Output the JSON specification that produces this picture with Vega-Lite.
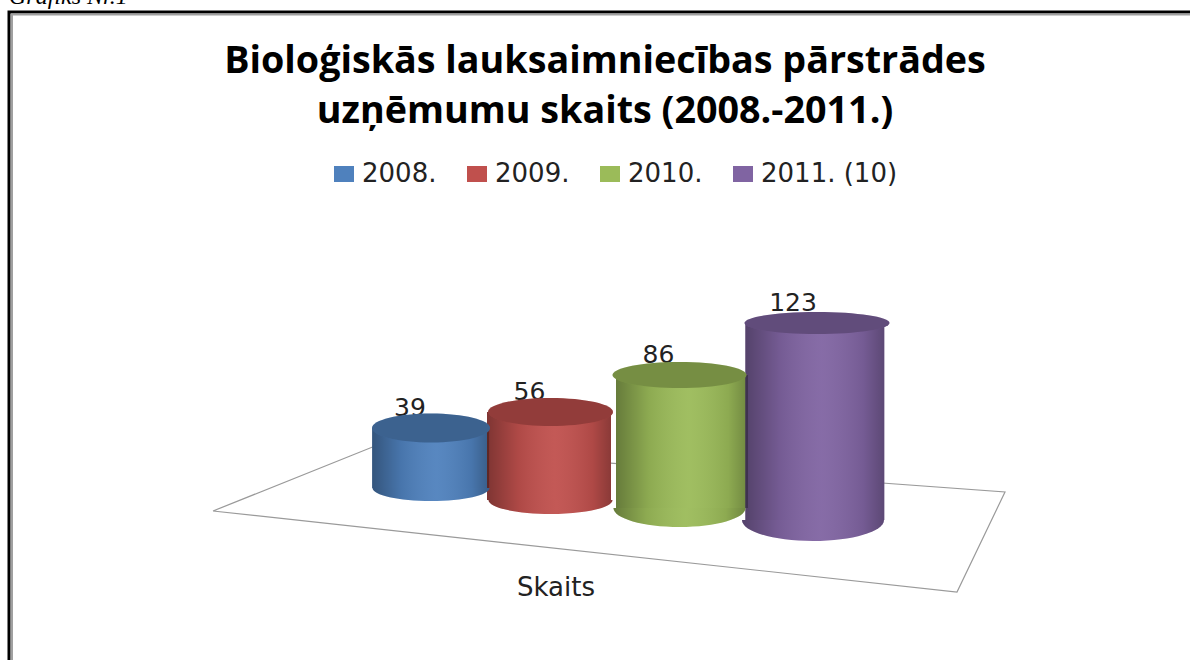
{
"$schema":"https://vega.github.io/schema/vega-lite/v6.json",
"width":1190,"height":660,"autosize":"none","padding":0,"background":"white",
"title":{"text":["Bioloģiskās lauksaimniecības pārstrādes","uzņēmumu skaits (2008.-2011.)"],"font":"Open Sans","fontSize":37.7,"fontWeight":"bold","color":"#000000","lineHeight":50,"anchor":"middle","frame":"group","dx":10,"dy":184,"offset":0,"baseline":"bottom"},
"config":{"view":{"stroke":null}},
"datasets":{
"cyl":[{"series":"2008.","year":2008,"value":39},{"series":"2009.","year":2009,"value":56},{"series":"2010.","year":2010,"value":86},{"series":"2011. (10)","year":2011,"value":123}],
"floor":[{"x":213,"y":511,"idx":0},{"x":375,"y":446,"idx":1},{"x":1005,"y":492,"idx":2},{"x":957,"y":592,"idx":3},{"x":213,"y":511,"idx":4}],
"frameA":[{"x":9,"y":660,"idx":0},{"x":9,"y":12,"idx":1},{"x":1190,"y":12,"idx":2}],
"frameB":[{"x":12,"y":660,"idx":0},{"x":12,"y":14.5,"idx":1},{"x":1190,"y":14.5,"idx":2}]
},
"layer":[
{"data":{"name":"frameA"},"mark":{"type":"line","stroke":"#000000","strokeWidth":3},"encoding":{"x":{"field":"x","type":"quantitative","axis":null,"scale":{"domain":[0,1190],"range":[0,1190]}},"y":{"field":"y","type":"quantitative","axis":null,"scale":{"domain":[0,660],"range":[0,660]}},"order":{"field":"idx"}}},
{"data":{"name":"frameB"},"mark":{"type":"line","stroke":"#a0a0a0","strokeWidth":2},"encoding":{"x":{"field":"x","type":"quantitative","axis":null,"scale":{"domain":[0,1190],"range":[0,1190]}},"y":{"field":"y","type":"quantitative","axis":null,"scale":{"domain":[0,660],"range":[0,660]}},"order":{"field":"idx"}}},
{"data":{"name":"floor"},"mark":{"type":"line","stroke":"#9a9a9a","strokeWidth":1.2},"encoding":{"x":{"field":"x","type":"quantitative","axis":null,"scale":{"domain":[0,1190],"range":[0,1190]}},"y":{"field":"y","type":"quantitative","axis":null,"scale":{"domain":[0,660],"range":[0,660]}},"order":{"field":"idx"}}},
{"data":{"values":[{"label":"Grafiks Nr.1"}]},"mark":{"type":"text","font":"Liberation Serif","fontStyle":"italic","fontSize":24,"align":"left","baseline":"alphabetic","color":"#000000"},"encoding":{"text":{"field":"label"},"x":{"datum":9,"type":"quantitative","axis":null,"scale":{"domain":[0,1190],"range":[0,1190]}},"y":{"datum":4,"type":"quantitative","axis":null,"scale":{"domain":[0,660],"range":[0,660]}}}},
{"data":{"values":[{"label":"Skaits"}]},"mark":{"type":"text","font":"DejaVu Sans","fontSize":26,"align":"center","baseline":"middle","color":"#222222"},"encoding":{"text":{"field":"label"},"x":{"datum":556,"type":"quantitative","axis":null,"scale":{"domain":[0,1190],"range":[0,1190]}},"y":{"datum":588,"type":"quantitative","axis":null,"scale":{"domain":[0,660],"range":[0,660]}}}},
{"data":{"name":"cyl"},"mark":{"type":"text","font":"DejaVu Sans","fontSize":25,"align":"center","baseline":"middle","dy":-20,"dx":-21,"color":"#222222"},"encoding":{"text":{"field":"value","type":"quantitative"},
"x":{"field":"year","type":"quantitative","axis":null,"scale":{"domain":[2008,2009,2010,2011],"range":[431,550.5,679.5,814]}},
"y":{"field":"value","type":"quantitative","axis":null,"scale":{"domain":[39,56,86,123,2008,2009,2010,2011],"range":[428,412,375,323,488,500,508,520]}}}},
{"data":{"name":"cyl"},"mark":{"type":"bar","opacity":1},"encoding":{
"x":{"field":"year","type":"quantitative","axis":null,"scale":{"domain":[2008,2009,2010,2011],"range":[426,549,682,820]}},
"y":{"field":"value","type":"quantitative","axis":null,"scale":{"domain":[39,56,86,123,2008,2009,2010,2011],"range":[428,412,375,323,488,500,508,520]}},
"y2":{"field":"year"},
"size":{"field":"year","type":"quantitative","legend":null,"scale":{"domain":[2008,2009,2010,2011],"range":[117,124,132,139]}},
"color":{"field":"series","type":"nominal","scale":{"domain":["2008.","2009.","2010.","2011. (10)"],"range":["#4f81bd","#c0504d","#9bbb59","#8064a2"]},"legend":{"orient":"none","legendX":331,"legendY":161,"direction":"horizontal","title":null,"symbolType":"M-1.25,-1H1.25V1H-1.25Z","symbolSize":256,"labelFont":"DejaVu Sans","labelFontSize":26,"labelColor":"#222222","columnPadding":27,"labelOffset":5,"symbolStrokeWidth":0,"symbolOpacity":1}}}},
{"data":{"name":"cyl"},"mark":{"type":"bar","opacity":1,"fill":{"gradient":"linear","x1":0,"x2":1,"y1":0,"y2":0,"stops":[{"offset":0,"color":"rgba(0,0,0,0.34)"},{"offset":0.25,"color":"rgba(0,0,0,0.09)"},{"offset":0.55,"color":"rgba(255,255,255,0.05)"},{"offset":0.85,"color":"rgba(0,0,0,0.09)"},{"offset":1,"color":"rgba(0,0,0,0.28)"}]}},"encoding":{
"x":{"field":"year","type":"quantitative","axis":null,"scale":{"domain":[2008,2009,2010,2011],"range":[426,549,682,820]}},
"y":{"field":"value","type":"quantitative","axis":null,"scale":{"domain":[39,56,86,123,2008,2009,2010,2011],"range":[428,412,375,323,488,500,508,520]}},
"y2":{"field":"year"},
"size":{"field":"year","type":"quantitative","legend":null,"scale":{"domain":[2008,2009,2010,2011],"range":[117,124,132,139]}}}},
{"data":{"name":"cyl"},"mark":{"type":"point","filled":true,"opacity":1},"encoding":{
"x":{"field":"year","type":"quantitative","axis":null,"scale":{"domain":[2008,2009,2010,2011],"range":[431,550.5,679.5,814]}},
"y":{"field":"year","type":"quantitative","axis":null,"scale":{"domain":[39,56,86,123,2008,2009,2010,2011],"range":[428,412,375,323,488,500,508,520]}},
"color":{"field":"series","type":"nominal"},
"size":{"value":40000},
"shape":{"field":"series","type":"nominal","legend":null,"scale":{"domain":["2008.","2009.","2010.","2011. (10)"],"range":["M-0.585,0A0.585,0.13 0 0 0 0.585,0Z","M-0.62,0A0.62,0.14 0 0 0 0.62,0Z","M-0.66,0A0.66,0.19 0 0 0 0.66,0Z","M-0.72,0A0.71,0.21 0 0 0 0.70,0Z"]}}}},
{"data":{"name":"cyl"},"mark":{"type":"point","filled":true,"opacity":1,"fill":{"gradient":"linear","x1":0,"x2":1,"y1":0,"y2":0,"stops":[{"offset":0,"color":"rgba(0,0,0,0.34)"},{"offset":0.25,"color":"rgba(0,0,0,0.09)"},{"offset":0.55,"color":"rgba(255,255,255,0.05)"},{"offset":0.85,"color":"rgba(0,0,0,0.09)"},{"offset":1,"color":"rgba(0,0,0,0.28)"}]}},"encoding":{
"x":{"field":"year","type":"quantitative","axis":null,"scale":{"domain":[2008,2009,2010,2011],"range":[431,550.5,679.5,814]}},
"y":{"field":"year","type":"quantitative","axis":null,"scale":{"domain":[39,56,86,123,2008,2009,2010,2011],"range":[428,412,375,323,488,500,508,520]}},
"size":{"value":40000},
"shape":{"field":"series","type":"nominal","legend":null,"scale":{"domain":["2008.","2009.","2010.","2011. (10)"],"range":["M-0.585,0A0.585,0.13 0 0 0 0.585,0Z","M-0.62,0A0.62,0.14 0 0 0 0.62,0Z","M-0.66,0A0.66,0.19 0 0 0 0.66,0Z","M-0.72,0A0.71,0.21 0 0 0 0.70,0Z"]}}}},
{"data":{"name":"cyl"},"mark":{"type":"point","filled":true,"opacity":1},"encoding":{
"x":{"field":"year","type":"quantitative","axis":null,"scale":{"domain":[2008,2009,2010,2011],"range":[431,550.5,679.5,814]}},
"y":{"field":"value","type":"quantitative","axis":null,"scale":{"domain":[39,56,86,123,2008,2009,2010,2011],"range":[428,412,375,323,488,500,508,520]}},
"color":{"field":"series","type":"nominal"},
"size":{"value":40000},
"shape":{"field":"series","type":"nominal","legend":null,"scale":{"domain":["2008.","2009.","2010.","2011. (10)"],"range":["M-0.59,0A0.59,0.145 0 1 1 0.59,0A0.59,0.145 0 1 1 -0.59,0Z","M-0.625,0A0.625,0.14 0 1 1 0.625,0A0.625,0.14 0 1 1 -0.625,0Z","M-0.67,0A0.67,0.13 0 1 1 0.67,0A0.67,0.13 0 1 1 -0.67,0Z","M-0.695,0A0.725,0.11 0 1 1 0.755,0A0.725,0.11 0 1 1 -0.695,0Z"]}}}},
{"data":{"name":"cyl"},"mark":{"type":"point","filled":true,"opacity":0.24,"color":"#000000"},"encoding":{
"x":{"field":"year","type":"quantitative","axis":null,"scale":{"domain":[2008,2009,2010,2011],"range":[431,550.5,679.5,814]}},
"y":{"field":"value","type":"quantitative","axis":null,"scale":{"domain":[39,56,86,123,2008,2009,2010,2011],"range":[428,412,375,323,488,500,508,520]}},
"size":{"value":40000},
"shape":{"field":"series","type":"nominal","legend":null,"scale":{"domain":["2008.","2009.","2010.","2011. (10)"],"range":["M-0.59,0A0.59,0.145 0 1 1 0.59,0A0.59,0.145 0 1 1 -0.59,0Z","M-0.625,0A0.625,0.14 0 1 1 0.625,0A0.625,0.14 0 1 1 -0.625,0Z","M-0.67,0A0.67,0.13 0 1 1 0.67,0A0.67,0.13 0 1 1 -0.67,0Z","M-0.695,0A0.725,0.11 0 1 1 0.755,0A0.725,0.11 0 1 1 -0.695,0Z"]}}}}
],
"resolve":{"scale":{"x":"independent","y":"independent","shape":"independent","size":"independent"}}
}
